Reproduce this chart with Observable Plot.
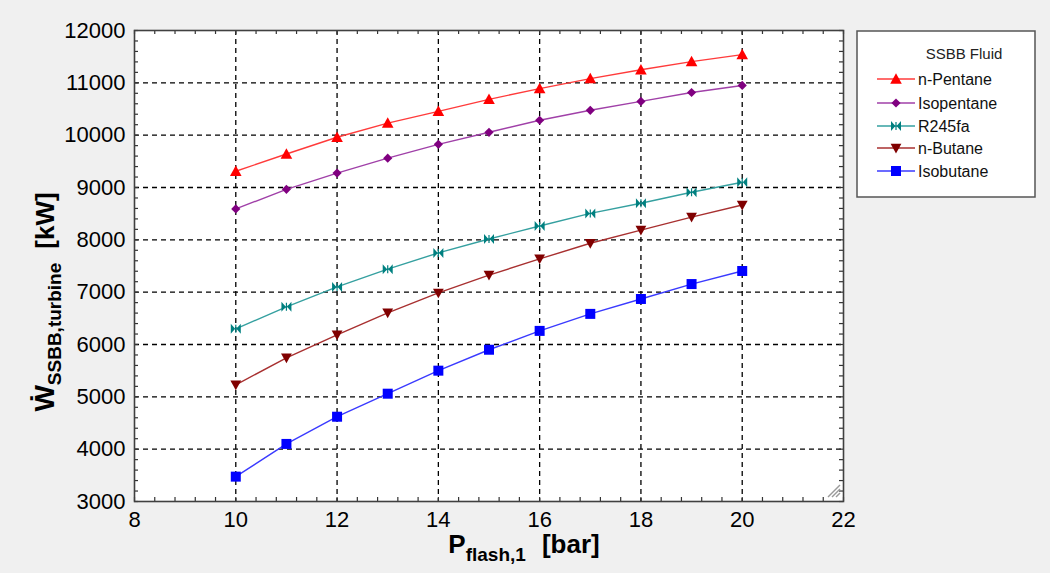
<!DOCTYPE html>
<html>
<head>
<meta charset="utf-8">
<script src="https://cdn.jsdelivr.net/npm/d3@7"></script>
<script src="https://cdn.jsdelivr.net/npm/@observablehq/plot@0.6"></script>
<style>
  html, body { margin: 0; padding: 0; background: #f0f0f0; }
  #chart { width: 1050px; height: 573px; }
</style>
</head>
<body>
<div id="chart"></div>
<script>
// ---------- data ----------
const pressure   = [10, 11, 12, 13, 14, 15, 16, 17, 18, 19, 20];
const nPentane   = [9310, 9640, 9960, 10230, 10455, 10685, 10890, 11080, 11250, 11405, 11540];
const isopentane = [8590, 8965, 9275, 9560, 9825, 10055, 10285, 10475, 10645, 10815, 10950];
const r245fa     = [6300, 6720, 7100, 7440, 7750, 8015, 8265, 8505, 8700, 8910, 9100];
const nButane    = [5230, 5745, 6185, 6605, 6985, 7325, 7635, 7935, 8185, 8435, 8665];
const isobutane  = [3475, 4100, 4620, 5060, 5500, 5900, 6260, 6585, 6870, 7155, 7405];
const fluids     = ["n-Pentane", "Isopentane", "R245fa", "n-Butane", "Isobutane"];
const xTicks     = [8, 10, 12, 14, 16, 18, 20, 22];
const yTicks     = [3000, 4000, 5000, 6000, 7000, 8000, 9000, 10000, 11000, 12000];
const xGrid      = [10, 12, 14, 16, 18, 20];
const yGrid      = [4000, 5000, 6000, 7000, 8000, 9000, 10000, 11000];
const xMinor     = d3.range(0, 36).map(i => 8 + i * 0.4);
const yMinor     = d3.range(0, 46).map(i => 3000 + i * 200);
const legendTitle = "SSBB Fluid";

// ---------- styles ----------
const lineColors   = ["#ff3b3b", "#a040a8", "#35a0a0", "#a83030", "#3a3aff"];
const markerColors = ["#ff0000", "#800080", "#008080", "#800000", "#0000ff"];

// custom symbols (r = half size)
function mk(fn) { return { draw(ctx, size) { fn(ctx, Math.sqrt(size / Math.PI)); } }; }
const symTriUp = mk((c, r) => { c.moveTo(0, -r); c.lineTo(r, r * 0.8); c.lineTo(-r, r * 0.8); c.closePath(); });
const symTriDown = mk((c, r) => { c.moveTo(0, r); c.lineTo(r, -r * 0.8); c.lineTo(-r, -r * 0.8); c.closePath(); });
const symDiamond = mk((c, r) => { c.moveTo(0, -r); c.lineTo(r, 0); c.lineTo(0, r); c.lineTo(-r, 0); c.closePath(); });
const symBowtie = mk((c, r) => {
  c.moveTo(-r, -r); c.lineTo(-0.6, 0); c.lineTo(-r, r); c.closePath();
  c.moveTo(r, -r); c.lineTo(0.6, 0); c.lineTo(r, r); c.closePath();
  c.moveTo(-0.6, -r * 0.8); c.lineTo(0.6, -r * 0.8); c.lineTo(0.6, r * 0.8); c.lineTo(-0.6, r * 0.8); c.closePath();
});
const symSquare = mk((c, r) => { c.rect(-r, -r, 2 * r, 2 * r); });
const symbols = [symTriUp, symDiamond, symBowtie, symTriDown, symSquare];
const symR = [5.8, 4.6, 5, 5.4, 5];

const values = [nPentane, isopentane, r245fa, nButane, isobutane];
const table = fluids.map((f, i) => pressure.map((p, j) => ({ fluid: f, p, w: values[i][j] })));

// ---------- layout ----------
const W = 1050, H = 573, mL = 134, mT = 30, mR = 207, mB = 72;
const frameW = W - mL - mR, frameH = H - mT - mB;
const font = "'Liberation Sans', Arial, sans-serif";

const chart = Plot.plot({
  width: W, height: H,
  marginLeft: mL, marginTop: mT, marginRight: mR, marginBottom: mB,
  style: { background: "#f0f0f0", fontFamily: font, overflow: "visible", color: "black" },
  x: { domain: [8, 22] },
  y: { domain: [3000, 12000] },
  marks: [
    Plot.frame({ fill: "white" }),
    Plot.gridX(xGrid, { stroke: "black", strokeOpacity: 1, strokeWidth: 1.3, strokeDasharray: "5,4" }),
    Plot.gridY(yGrid, { stroke: "black", strokeOpacity: 1, strokeWidth: 1.3, strokeDasharray: "5,4" }),
    Plot.tickX(xMinor, { x: d => d, insetTop: frameH - 4, stroke: "#333", strokeWidth: 1.2 }),
    Plot.tickX(xMinor, { x: d => d, insetBottom: frameH - 4, stroke: "#333", strokeWidth: 1.2 }),
    Plot.tickY(yMinor, { y: d => d, insetRight: frameW - 4, stroke: "#333", strokeWidth: 1.2 }),
    Plot.tickY(yMinor, { y: d => d, insetLeft: frameW - 4, stroke: "#333", strokeWidth: 1.2 }),
    Plot.axisX(xTicks, { tickSize: 0, tickPadding: 10, fontSize: 22, label: null, tickFormat: d => String(d), fill: "black" }),
    Plot.axisY(yTicks, { tickSize: 0, tickPadding: 9, fontSize: 22, label: null, tickFormat: d => String(d), fill: "black" }),
    ...table.map((rows, i) => Plot.line(rows, { x: "p", y: "w", stroke: lineColors[i], strokeWidth: 1.4 })),
    ...table.map((rows, i) => Plot.dot(rows, { x: "p", y: "w", symbol: symbols[i], r: symR[i], fill: markerColors[i], stroke: "none" })),
    Plot.frame({ stroke: "#404040", strokeWidth: 1.6 })
  ]
});
document.getElementById("chart").appendChild(chart);

// ---------- extra text & legend ----------
const svg = d3.select(chart);

// x label
const xl = svg.append("text")
  .attr("x", 524).attr("y", 553)
  .attr("text-anchor", "middle")
  .attr("font-family", font).attr("font-weight", "bold").attr("fill", "black");
xl.append("tspan").attr("font-size", 26).text("P");
xl.append("tspan").attr("font-size", 19).attr("dy", 8).text("flash,1");
xl.append("tspan").attr("font-size", 26).attr("dy", -8).attr("dx", 16).text("[bar]");

// y label
const yl = svg.append("text")
  .attr("transform", "translate(54,302) rotate(-90)")
  .attr("text-anchor", "middle")
  .attr("font-family", "'Liberation Sans', 'DejaVu Sans', Arial, sans-serif")
  .attr("font-weight", "bold").attr("fill", "black");
yl.append("tspan").attr("font-size", 28).text("Ẇ");
yl.append("tspan").attr("font-size", 19).attr("dy", 7).text("SSBB,turbine");
yl.append("tspan").attr("font-size", 26).attr("dy", -7).attr("dx", 14).text("[kW]");

// resize grip
const grip = svg.append("g").attr("stroke", "#9a9a9a").attr("stroke-width", 1.4);
[0, 1, 2].forEach(k => {
  grip.append("line").attr("x1", 828 + 4 * k).attr("y1", 497).attr("x2", 840).attr("y2", 485 + 4 * k);
});

// legend
const lg = svg.append("g").attr("font-family", font);
lg.append("rect").attr("x", 857).attr("y", 31).attr("width", 178).attr("height", 166)
  .attr("fill", "white").attr("stroke", "#555").attr("stroke-width", 1.5);
lg.append("text").attr("x", 964).attr("y", 59).attr("text-anchor", "middle")
  .attr("font-size", 15).attr("fill", "#222").text(legendTitle);
const rowY = [79, 103, 126, 148, 171];
fluids.forEach((f, i) => {
  const y = rowY[i];
  lg.append("line").attr("x1", 877).attr("x2", 915).attr("y1", y).attr("y2", y)
    .attr("stroke", lineColors[i]).attr("stroke-width", 1.4);
  lg.append("path").attr("transform", `translate(896,${y})`)
    .attr("d", d3.symbol(symbols[i], Math.PI * symR[i] * symR[i])())
    .attr("fill", markerColors[i]);
  lg.append("text").attr("x", 918).attr("y", y).attr("dy", "0.35em")
    .attr("text-anchor", "start")
    .attr("font-size", 16).attr("fill", "#111").text(f);
});
</script>
</body>
</html>
